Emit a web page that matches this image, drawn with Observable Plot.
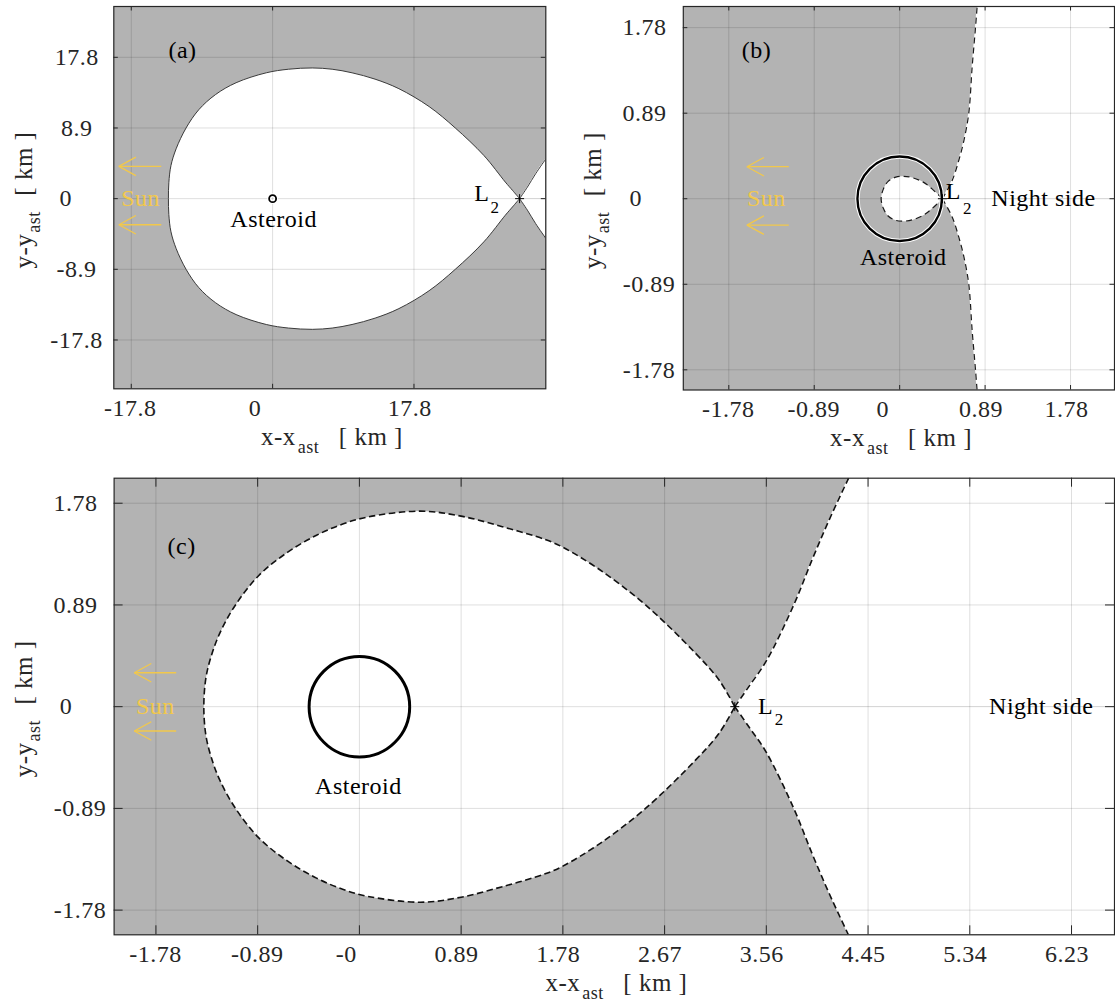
<!DOCTYPE html>
<html>
<head>
<meta charset="utf-8">
<script src="https://cdn.jsdelivr.net/npm/d3@7"></script>
<script src="https://cdn.jsdelivr.net/npm/@observablehq/plot@0.6"></script>
<style>
  @font-face {
    font-family: "FigSerif";
    src: local("Liberation Serif"), local("LiberationSerif"), local("LiberationSerif-Regular"),
         local("Liberation Serif Regular"), local("DejaVu Serif"), local("DejaVuSerif"),
         local("Times New Roman"), local("Tinos"), local("FreeSerif"), local("Noto Serif");
  }
  body { margin: 0; background: #fff; }
  #fig { position: relative; width: 1115px; height: 1002px; overflow: hidden; background: #fff; }
  #fig svg { position: absolute; overflow: visible; }
  #fig svg text {
    font-family: "Liberation Serif", "FigSerif", "DejaVu Serif", "Times New Roman", Times, "Noto Serif", serif !important;
    letter-spacing: 0.5px;
  }
</style>
</head>
<body>
<div id="fig"></div>
<script>
// ---- tick values and their printed labels (km) ----
const xTicksA = [-17.8, 0, 17.8];
const xTickLabelsA = ["-17.8", "0", "17.8"];
const yTicksA = [-17.8, -8.9, 0, 8.9, 17.8];
const yTickLabelsA = ["-17.8", "-8.9", "0", "8.9", "17.8"];

const xTicksB = [-1.78, -0.89, 0, 0.89, 1.78];
const xTickLabelsB = ["-1.78", "-0.89", "0", "0.89", "1.78"];
const yTicksB = [-1.78, -0.89, 0, 0.89, 1.78];
const yTickLabelsB = ["-1.78", "-0.89", "0", "0.89", "1.78"];

const xTicksC = [-1.78, -0.89, 0, 0.89, 1.78, 2.67, 3.56, 4.45, 5.34, 6.23];
const xTickLabelsC = ["-1.78", "-0.89", "-0", "0.89", "1.78", "2.67", "3.56", "4.45", "5.34", "6.23"];
const yTicksC = [-1.78, -0.89, 0, 0.89, 1.78];
const yTickLabelsC = ["-1.78", "-0.89", "0", "0.89", "1.78"];

// ---- zero-velocity curves: upper halves [x, y] in km, starting at L2 ----
// (the curves are symmetric about y = 0)
const teardropA = [[31.1, 0], [30.2, 1.05], [29.3, 2.09], [26.6, 5.44], [23.0, 8.9], [19.7, 11.6],
  [15.9, 13.85], [12.9, 15.05], [10.0, 15.85], [7.5, 16.3], [5.0, 16.46], [2.0, 16.3],
  [-0.8, 15.85], [-4.6, 14.6], [-7.2, 13.1], [-9.3, 11.2], [-10.9, 8.9], [-12.15, 6.28],
  [-12.8, 4.18], [-13.07, 2.0], [-13.12, 0]];
const outerA = [[31.1, 0], [32.08, 1.45], [33.12, 3.14], [34.42, 5.03]];

const teardropB = [[0.445, 0], [0.34, 0.10], [0.25, 0.17], [0.13, 0.22], [0.04, 0.233],
  [-0.04, 0.225], [-0.12, 0.18], [-0.17, 0.10], [-0.193, 0]];
const outerB = [[0.445, 0], [0.547, 0.19], [0.616, 0.40], [0.668, 0.60], [0.72, 0.89],
  [0.755, 1.37], [0.79, 1.78], [0.807, 2.0]];

const teardropC = [[3.284, 0], [3.145, 0.235], [2.94, 0.468], [2.503, 0.89], [2.1, 1.20],
  [1.78, 1.395], [1.632, 1.46], [1.25, 1.575], [0.89, 1.667], [0.535, 1.711], [0.075, 1.66],
  [-0.14, 1.60], [-0.375, 1.50], [-0.63, 1.35], [-0.88, 1.148], [-1.084, 0.89], [-1.218, 0.65],
  [-1.294, 0.45], [-1.343, 0.25], [-1.361, 0]];
const outerC = [[3.284, 0], [3.41, 0.18], [3.56, 0.40], [3.80, 0.89], [3.96, 1.285],
  [4.11, 1.635], [4.28, 2.0]];

// L2 abscissa (km) and asteroid radius (km)
const l2A = 31.1, l2B = 0.445, l2C = 3.284;
const asteroidRadius = 0.44;

// Sun direction arrows: tip, tail (km) and heights (km)
const sunArrowsA = [{tip: -19.36, tail: -14.02, y: 4.06}, {tip: -19.36, tail: -14.02, y: -3.29}];
const sunArrowsB = [{tip: -1.591, tail: -1.155, y: 0.333}, {tip: -1.591, tail: -1.155, y: -0.274}];
const sunArrowsC = [{tip: -1.969, tail: -1.603, y: 0.297}, {tip: -1.969, tail: -1.603, y: -0.213}];
const sunLabelX = {a: -16.62, b: -1.388, c: -1.785};
const nightLabelX = {b: 1.498, c: 5.965};

// ---- styling ----
const GREY = "#b3b3b3";
const AXIS = "#262626";
const SUN = "#f2c84b";
const FONT = "Liberation Serif, FigSerif, DejaVu Serif, serif";

function makePanel(p) {
  const W = p.width - p.ml - p.mr;
  const H = p.height - p.mt - p.mb;
  const k = W / (p.xDomain[1] - p.xDomain[0]); // px per km
  const xMax = p.xDomain[1];
  const X = d => d[0], Y = d => d[1];
  const mirror = pts => pts.map(([x, y]) => [x, -y]);
  // closed teardrop outline, starting and ending at the L2 cusp
  const loop = [...p.teardrop, ...mirror(p.teardrop.slice(0, -1).reverse())];
  const branches = [p.outer, mirror(p.outer)];
  const curveStroke = {
    stroke: p.lineColor, strokeWidth: p.lineWidth, strokeDasharray: p.dash,
    curve: "catmull-rom", clip: true, strokeLinecap: "butt"
  };

  const split = ticks => ({
    neg: ticks.filter(t => t < 0), zero: ticks.filter(t => t === 0), pos: ticks.filter(t => t > 0)
  });
  const gx = split(p.xTicks), gy = split(p.yTicks);
  const fmtX = d => p.xLabels[p.xTicks.indexOf(d)];
  const fmtY = d => p.yLabels[p.yTicks.indexOf(d)];
  const xTickText = ["neg", "zero", "pos"].map(g => Plot.axisX(gx[g], {
    anchor: "bottom", tickSize: 0, tickPadding: 10, tickFormat: fmtX, fontSize: 24,
    dx: p.xDx[g], label: null
  }));
  const yTickText = ["neg", "zero", "pos"].map(g => Plot.axisY(gy[g], {
    anchor: "left", tickSize: 0, tickPadding: 0, textAnchor: "middle", tickFormat: fmtY,
    fontSize: 24, dx: p.yDx[g], label: null
  }));

  // arrowheads for the Sun arrows (open "<" heads)
  const headLen = 16.5 / k, headHalf = 9 / k;
  const heads = p.sun.flatMap((a, i) => [
    {x: a.tip + headLen, y: a.y + headHalf, id: i},
    {x: a.tip, y: a.y, id: i},
    {x: a.tip + headLen, y: a.y - headHalf, id: i}
  ]);

  const L = p.tickLen;
  const marks = [
    Plot.frame({fill: GREY, stroke: "none"}),
    // allowed (white) regions
    Plot.line(loop, {x: X, y: Y, fill: "white", stroke: "none", curve: "catmull-rom", clip: true}),
    ...branches.map(b => Plot.areaX(b, {y: Y, x1: X, x2: xMax, fill: "white", curve: "catmull-rom", clip: true})),
    // grid
    Plot.gridX(p.xTicks, {stroke: "#000", strokeOpacity: 0.13, strokeWidth: 1}),
    Plot.gridY(p.yTicks, {stroke: "#000", strokeOpacity: 0.13, strokeWidth: 1}),
    // zero-velocity curve
    Plot.line(loop, {x: X, y: Y, ...curveStroke}),
    ...branches.map(b => Plot.line(b, {x: X, y: Y, ...curveStroke})),
    // asteroid
    Plot.dot([[0, 0]], {x: X, y: Y, r: asteroidRadius * k, fill: "none", stroke: "white", strokeWidth: p.astWidth + 2}),
    Plot.dot([[0, 0]], {x: X, y: Y, r: asteroidRadius * k, fill: "none", stroke: "#000", strokeWidth: p.astWidth}),
    Plot.text([[0, 0]], {x: X, y: Y, text: () => "Asteroid", dx: p.astLabel[0], dy: p.astLabel[1], fontSize: 24, fill: "#000"}),
    // L2
    Plot.dot([[p.l2, 0]], {x: X, y: Y, symbol: "plus", r: 3, stroke: "#000", strokeWidth: 1}),
    Plot.text([[p.l2, 0]], {x: X, y: Y, text: () => "L", dx: p.lLabel[0], dy: p.lLabel[1], fontSize: 24, fill: "#000"}),
    Plot.text([[p.l2, 0]], {x: X, y: Y, text: () => "2", dx: p.lSub[0], dy: p.lSub[1], fontSize: 17, fill: "#000"}),
    // Sun direction
    Plot.link(p.sun, {x1: d => d.tail, x2: d => d.tip, y1: d => d.y, y2: d => d.y, stroke: SUN, strokeWidth: 1.3}),
    Plot.line(heads, {x: "x", y: "y", z: "id", stroke: SUN, strokeWidth: 1.3, strokeLinejoin: "miter"}),
    Plot.text([[p.sunX, 0]], {x: X, y: Y, text: () => "Sun", fontSize: 24, fill: SUN}),
    // panel letter
    Plot.text([p.letter], {frameAnchor: "top-left", text: d => d, dx: p.letterPos[0], dy: p.letterPos[1], fontSize: 24, fill: "#000"}),
    // inward ticks on all four sides
    Plot.ruleX(p.xTicks, {x: d => d, insetTop: H - L, stroke: AXIS, strokeWidth: 1}),
    Plot.ruleX(p.xTicks, {x: d => d, insetBottom: H - L, stroke: AXIS, strokeWidth: 1}),
    Plot.ruleY(p.yTicks, {y: d => d, insetRight: W - L, stroke: AXIS, strokeWidth: 1}),
    Plot.ruleY(p.yTicks, {y: d => d, insetLeft: W - L, stroke: AXIS, strokeWidth: 1}),
    Plot.frame({stroke: AXIS, strokeWidth: 1.2}),
    ...xTickText,
    ...yTickText,
    // axis titles
    Plot.text(["x-x"], {frameAnchor: "bottom", text: d => d, textAnchor: "end", lineAnchor: "bottom", dx: -34, dy: 56, fontSize: 25, fill: AXIS}),
    Plot.text(["ast"], {frameAnchor: "bottom", text: d => d, textAnchor: "start", lineAnchor: "bottom", dx: -32, dy: 64, fontSize: 18, fill: AXIS}),
    Plot.text(["[ km ]"], {frameAnchor: "bottom", text: d => d, textAnchor: "start", lineAnchor: "bottom", dx: 9, dy: 56, fontSize: 25, fill: AXIS}),
    Plot.text(["y-y"], {frameAnchor: "left", text: d => d, rotate: -90, textAnchor: "end", lineAnchor: "bottom", dx: -82, dy: 36, fontSize: 25, fill: AXIS}),
    Plot.text(["ast"], {frameAnchor: "left", text: d => d, rotate: -90, textAnchor: "start", lineAnchor: "bottom", dx: -74, dy: 35, fontSize: 18, fill: AXIS}),
    Plot.text(["[ km ]"], {frameAnchor: "left", text: d => d, rotate: -90, textAnchor: "start", lineAnchor: "bottom", dx: -82, dy: -2, fontSize: 25, fill: AXIS})
  ];
  if (p.nightX !== undefined) {
    marks.push(Plot.text([[p.nightX, 0]], {x: X, y: Y, text: () => "Night side", fontSize: 24, fill: "#000"}));
  }

  const svg = Plot.plot({
    width: p.width, height: p.height,
    marginLeft: p.ml, marginRight: p.mr, marginTop: p.mt, marginBottom: p.mb,
    x: {domain: p.xDomain, axis: null},
    y: {domain: p.yDomain, axis: null},
    style: {fontSize: "24px", color: AXIS, background: "transparent", overflow: "visible"},
    marks
  });
  svg.setAttribute("font-family", FONT);
  svg.style.left = p.left + "px";
  svg.style.top = p.top + "px";
  return svg;
}

const fig = document.getElementById("fig");

// (a) wide view, solid outline
fig.appendChild(makePanel({
  left: 0, top: 0, width: 560, height: 470, ml: 113.3, mr: 14.7, mt: 6, mb: 81.7,
  xDomain: [-20.0, 34.4], yDomain: [-23.95, 24.2],
  xTicks: xTicksA, xLabels: xTickLabelsA, yTicks: yTicksA, yLabels: yTickLabelsA,
  xDx: {neg: -1, zero: -17.5, pos: -4.2}, yDx: {neg: -37.4, zero: -48, pos: -37},
  teardrop: teardropA, outer: outerA, l2: l2A,
  lineColor: "#3a3a3a", lineWidth: 1, dash: null,
  astWidth: 1.8, astLabel: [1, 20.3],
  lLabel: [-37.8, -5.7], lSub: [-24.5, 9.3],
  sun: sunArrowsA, sunX: sunLabelX.a,
  letter: "(a)", letterPos: [54.6, 34.8], tickLen: 4.5
}));

// (b) close-up, dashed outline
fig.appendChild(makePanel({
  left: 560, top: 0, width: 555, height: 470, ml: 122.8, mr: 1, mt: 6, mb: 80.5,
  xDomain: [-2.254, 2.238], yDomain: [-1.99, 2.0],
  xTicks: xTicksB, xLabels: xTickLabelsB, yTicks: yTicksB, yLabels: yTickLabelsB,
  xDx: {neg: -0.6, zero: -17, pos: -4}, yDx: {neg: -34.3, zero: -47.6, pos: -38.7},
  teardrop: teardropB, outer: outerB, l2: l2B,
  lineColor: "#1a1a1a", lineWidth: 1.2, dash: "6,4",
  astWidth: 2.4, astLabel: [3.6, 58.7],
  lLabel: [11, -7.2], lSub: [25, 9.5],
  sun: sunArrowsB, sunX: sunLabelX.b, nightX: nightLabelX.b,
  letter: "(b)", letterPos: [58.4, 34.8], tickLen: 4.5
}));

// (c) full-width, dashed outline
fig.appendChild(makePanel({
  left: 0, top: 470, width: 1115, height: 532, ml: 113.6, mr: 1, mt: 7.7, mb: 67.7,
  xDomain: [-2.146, 6.606], yDomain: [-1.996, 1.999],
  xTicks: xTicksC, xLabels: xTickLabelsC, yTicks: yTicksC, yLabels: yTickLabelsC,
  xDx: {neg: -0.5, zero: -13.2, pos: -4.6}, yDx: {neg: -34, zero: -48, pos: -38.6},
  teardrop: teardropC, outer: outerC, l2: l2C,
  lineColor: "#111", lineWidth: 1.6, dash: "6.5,3.5",
  astWidth: 3, astLabel: [-1, 79.3],
  lLabel: [30.7, -0.5], lSub: [44.5, 12.5],
  sun: sunArrowsC, sunX: sunLabelX.c, nightX: nightLabelX.c,
  letter: "(c)", letterPos: [53.5, 58.5], tickLen: 9
}));
</script>
</body>
</html>
